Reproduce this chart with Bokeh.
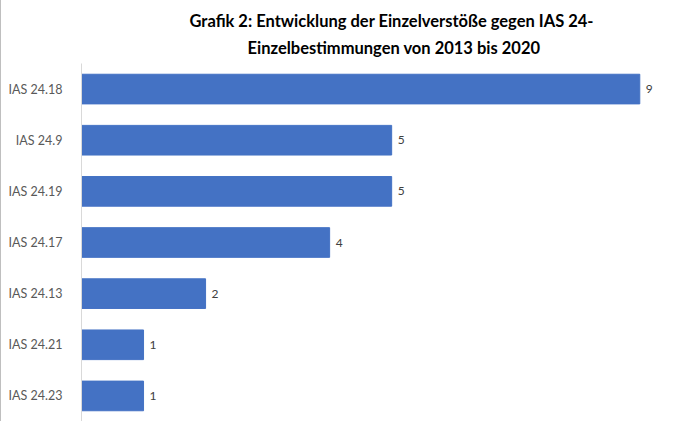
from bokeh.plotting import figure
from bokeh.models import ColumnDataSource, Title, FactorRange
from bokeh.core.properties import value
from bokeh.embed import file_html
from bokeh.resources import INLINE

categories = ["IAS 24.18", "IAS 24.9", "IAS 24.19", "IAS 24.17", "IAS 24.13", "IAS 24.21", "IAS 24.23"]
counts = [9, 5, 5, 4, 2, 1, 1]
title_lines = ["Grafik 2: Entwicklung der Einzelverstöße gegen IAS 24-",
               "Einzelbestimmungen von 2013 bis 2020"]

src = ColumnDataSource(dict(cat=categories, val=counts, lab=[str(v) for v in counts]))

p = figure(width=660, height=421, output_backend="svg", toolbar_location=None,
           y_range=FactorRange(*list(reversed(categories))), x_range=(0, 9.35),
           x_axis_location=None, min_border_left=80, min_border_right=0,
           min_border_bottom=0, min_border_top=0)
p.outline_line_color = None
p.xgrid.visible = False
p.ygrid.visible = False
p.styles = {"border-left": "1px solid #BFBFBF"}

p.hbar(y="cat", right="val", left=0, height=0.58, source=src,
       fill_color="#4472C4", line_color="#4472C4")
p.text(x="val", y="cat", text="lab", source=src, x_offset=6,
       text_baseline="middle", text_align="left", text_font=value("Lato"),
       text_font_size="12px", text_color="#404040")

ax = p.yaxis[0]
ax.axis_line_color = "#D9D9D9"
ax.major_tick_line_color = None
ax.minor_tick_line_color = None
ax.major_label_text_font = "Lato"
ax.major_label_text_font_size = "12.5px"
ax.major_label_text_color = "#595959"
ax.major_label_standoff = 13

offsets = [108, 166]
for i in [1, 0]:
    t = Title(text=title_lines[i], align="left", offset=offsets[i], text_font="Lato",
              text_font_size="16.5px", text_font_style="bold", text_color="#000000",
              standoff=11 if i == 1 else 0)
    p.add_layout(t, "above")
p.add_layout(Title(text=" ", text_font_size="5px", standoff=0), "above")

open("out.html", "w").write(file_html(p, INLINE))
